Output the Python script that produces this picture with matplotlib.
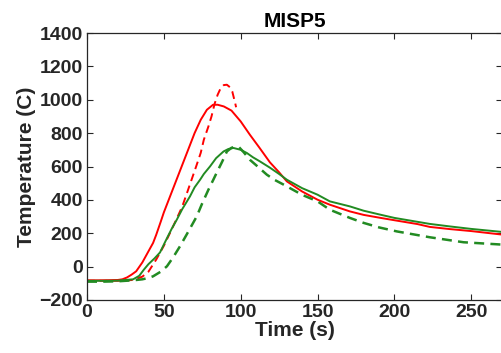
"""Temperature history for MISP5."""

import matplotlib

matplotlib.use("Agg")
import matplotlib.pyplot as plt

plt.rcParams["font.family"] = ["Liberation Sans", "DejaVu Sans"]
plt.rcParams["font.weight"] = "bold"

TEXT = "#262626"
RED = "#ff0000"
GREEN = "#228b22"

red_solid_t = [0, 10, 20, 23, 26, 29, 32, 36, 40, 43, 45, 48, 50, 54, 58, 62, 66,
               70, 74, 78, 82, 85, 89, 94, 100, 106, 112, 119, 125, 130, 140, 150,
               158, 171, 180, 191, 200, 215, 223, 236, 250, 270]
red_solid_T = [-82, -82, -80, -76, -65, -48, -28, 25, 92, 142, 190, 270, 325, 420,
               515, 610, 705, 800, 880, 940, 970, 970, 960, 935, 870, 790, 715, 625,
               565, 511, 450, 401, 371, 331, 310, 292, 278, 255, 238, 225, 213, 192]

red_dash_t = [0, 20, 30, 36, 40, 45, 50, 54, 58, 62, 65, 68, 71, 74, 76, 79, 81,
              83, 85, 87, 89, 91, 93, 94.5, 96.4, 97]
red_dash_T = [-85, -85, -80, -60, -30, 42, 125, 202, 280, 361, 440, 520, 600, 682,
              760, 840, 900, 975, 1030, 1070, 1088, 1090, 1075, 1050, 980, 955]

green_solid_t = [0, 10, 20, 30, 34, 37, 40, 44, 47.5, 52, 55, 58.4, 62, 67, 70,
                 73.6, 76, 80, 84, 88.8, 92, 95.3, 100, 104, 108, 112.6, 119, 125,
                 130, 140, 150, 158, 171, 180, 191, 200, 223, 236, 250, 270]
green_solid_T = [-85, -85, -84, -76, -55, -18, 15, 50, 85, 170, 225, 281, 345, 421,
                 475, 521, 555, 600, 650, 690, 705, 711, 700, 681, 655, 630, 593, 555,
                 521, 470, 431, 391, 361, 335, 311, 292, 256, 241, 226, 208]

green_dash_t = [0, 10, 20, 30, 36, 40, 43, 48, 52, 56, 60.5, 65, 71.4, 75, 79,
                82.2, 84.4, 88, 91, 94, 97, 99, 102, 106, 111, 117, 122, 128, 140,
                150, 158, 171, 180, 190, 201.6, 223, 245, 270]
green_dash_T = [-90, -90, -88, -82, -76, -68, -58, -30, 2, 55, 122, 195, 301, 380,
                461, 521, 563, 630, 690, 712, 720, 715, 685, 640, 600, 551, 520, 491,
                430, 391, 341, 292, 262, 235, 211, 176, 146, 132]

x_ticks = [0, 50, 100, 150, 200, 250]
y_ticks = [-200, 0, 200, 400, 600, 800, 1000, 1200, 1400]

fig = plt.figure(figsize=(5.01, 3.53), dpi=100)
ax = fig.add_axes([87 / 501, 53 / 353, 415 / 501, 267 / 353])

ax.plot(red_solid_t, red_solid_T, color=RED, lw=1.4)
ax.plot(red_dash_t, red_dash_T, color=RED, lw=1.4, ls=(0, (4, 2.5)))
ax.plot(green_solid_t, green_solid_T, color=GREEN, lw=1.4)
ax.plot(green_dash_t, green_dash_T, color=GREEN, lw=1.8, ls=(0, (4, 2.5)))

ax.set_xlim(0, 270)
ax.set_ylim(-200, 1400)
ax.set_xticks(x_ticks)
ax.set_yticks(y_ticks)
ax.tick_params(direction="in", top=True, right=True, length=4, width=0.8,
               labelsize=14, colors=TEXT, pad=3)
for lab in ax.get_xticklabels() + ax.get_yticklabels():
    lab.set_fontweight("bold")
for spine in ax.spines.values():
    spine.set_color(TEXT)
    spine.set_linewidth(0.9)

ax.set_xlabel("Time (s)", fontsize=15, fontweight="bold", color=TEXT, labelpad=0)
ax.set_ylabel("Temperature (C)", fontsize=15, fontweight="bold", color=TEXT, labelpad=2)
ax.set_title("MISP5", fontsize=15, fontweight="bold", color="black", pad=4)

fig.savefig("out.png", dpi=100)
